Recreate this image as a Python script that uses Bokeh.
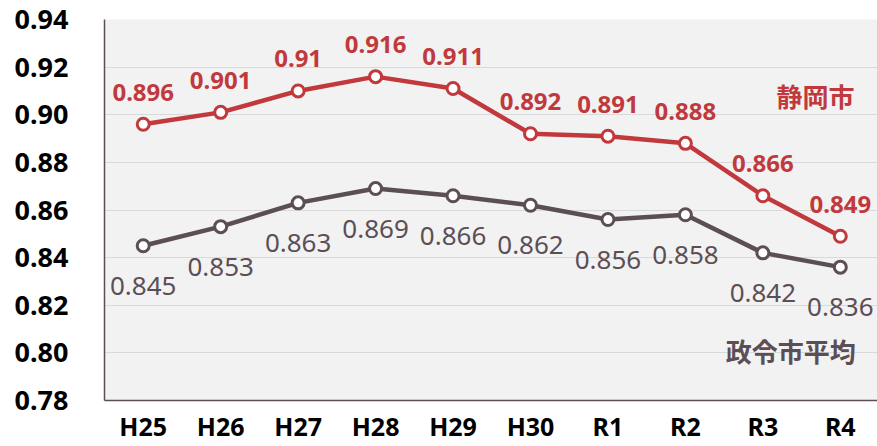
from bokeh.plotting import figure
from bokeh.models import Range1d, FixedTicker, ColumnDataSource, Label, NumeralTickFormatter
from bokeh.core.properties import value
from bokeh.embed import file_html
from bokeh.resources import INLINE

categories = ["H25", "H26", "H27", "H28", "H29", "H30", "R1", "R2", "R3", "R4"]
shizuoka = [0.896, 0.901, 0.91, 0.916, 0.911, 0.892, 0.891, 0.888, 0.866, 0.849]
seirei_avg = [0.845, 0.853, 0.863, 0.869, 0.866, 0.862, 0.856, 0.858, 0.842, 0.836]
shizuoka_labels = ["0.896", "0.901", "0.91", "0.916", "0.911", "0.892", "0.891", "0.888", "0.866", "0.849"]
avg_labels = ["0.845", "0.853", "0.863", "0.869", "0.866", "0.862", "0.856", "0.858", "0.842", "0.836"]
y_ticks = [0.78, 0.80, 0.82, 0.84, 0.86, 0.88, 0.90, 0.92, 0.94]

RED = "#C1393C"
GRAY = "#5B4F55"
FONT = "Noto Sans"
CJK = "Noto Sans CJK JP"

xs = list(range(len(categories)))
src = ColumnDataSource(dict(x=xs, s=shizuoka, a=seirei_avg, sl=shizuoka_labels, al=avg_labels))

p = figure(width=877, height=446, output_backend="svg", toolbar_location=None,
           x_range=Range1d(-0.5, 9.48), y_range=Range1d(0.78, 0.94))
p.min_border_left = 104
p.min_border_top = 19
p.min_border_right = 0
p.min_border_bottom = 46
p.background_fill_color = "#F2F2F2"
p.border_fill_color = "white"
p.outline_line_color = None

p.xgrid.grid_line_color = None
p.ygrid.grid_line_color = "#D9D9D9"
p.ygrid.grid_line_width = 1

p.yaxis.ticker = FixedTicker(ticks=y_ticks)
p.yaxis.formatter = NumeralTickFormatter(format="0.00")
p.xaxis.ticker = FixedTicker(ticks=xs)
p.xaxis.major_label_overrides = {i: c for i, c in enumerate(categories)}
for ax in (p.xaxis, p.yaxis):
    ax.axis_line_color = GRAY
    ax.axis_line_width = 1.5
    ax.major_tick_line_color = None
    ax.minor_tick_line_color = None
    ax.major_label_text_font = FONT
    ax.major_label_text_font_style = "bold"
    ax.major_label_text_color = "black"
p.yaxis.major_label_text_font_size = "27px"
p.yaxis.major_label_standoff = 30
p.xaxis.major_label_text_font_size = "25px"
p.xaxis.major_label_standoff = 2

# lines and markers
p.line("x", "a", source=src, line_color=GRAY, line_width=4.5)
p.scatter("x", "a", source=src, size=12, fill_color="white", line_color=GRAY, line_width=3)
p.line("x", "s", source=src, line_color=RED, line_width=4.5)
p.scatter("x", "s", source=src, size=12, fill_color="white", line_color=RED, line_width=3)

# data labels
p.text("x", "s", text="sl", source=src, text_color=RED, text_font=value(FONT),
       text_font_style="bold", text_font_size="24px", text_align="center",
       text_baseline="middle", y_offset=-32)
p.text("x", "a", text="al", source=src, text_color=GRAY, text_font=value(FONT),
       text_font_size="26px", text_align="center", text_baseline="middle", y_offset=40)

# series labels
p.add_layout(Label(x=8.68, y=0.908, text="静岡市", text_color=RED, text_font=CJK,
                   text_font_style="bold", text_font_size="26px", text_align="center",
                   text_baseline="middle"))
p.add_layout(Label(x=8.36, y=0.801, text="政令市平均", text_color=GRAY, text_font=CJK,
                   text_font_style="bold", text_font_size="26px", text_align="center",
                   text_baseline="middle"))

open("out.html", "w").write(file_html(p, INLINE))
